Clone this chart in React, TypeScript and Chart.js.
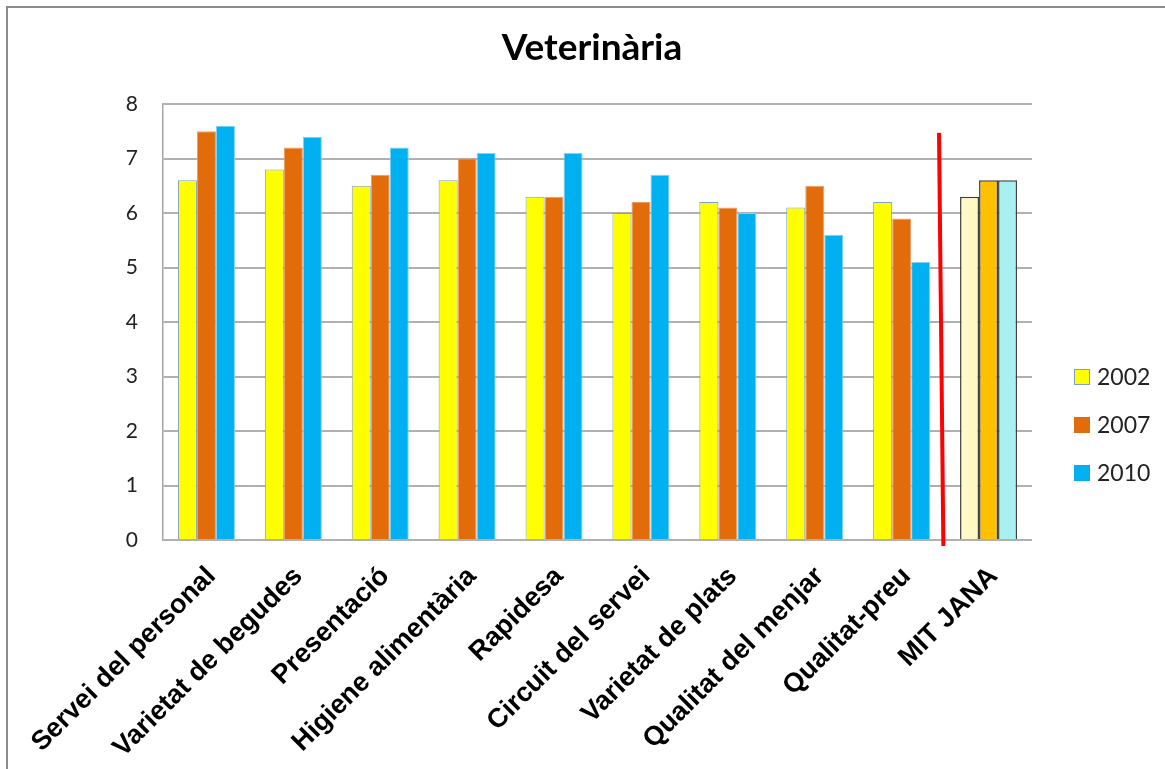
import React, { useEffect, useRef } from "react";
import { Chart, registerables } from "chart.js";

Chart.register(...registerables);

const categories = [
  "Servei del personal",
  "Varietat de begudes",
  "Presentació",
  "Higiene alimentària",
  "Rapidesa",
  "Circuit del servei",
  "Varietat de plats",
  "Qualitat del menjar",
  "Qualitat-preu",
  "MIT JANA",
];

const seriesLabels = ["2002", "2007", "2010"];
const values2002 = [6.6, 6.8, 6.5, 6.6, 6.3, 6.0, 6.2, 6.1, 6.2, 6.3];
const values2007 = [7.5, 7.2, 6.7, 7.0, 6.3, 6.2, 6.1, 6.5, 5.9, 6.6];
const values2010 = [7.6, 7.4, 7.2, 7.1, 7.1, 6.7, 6.0, 5.6, 5.1, 6.6];

const yTicks = [0, 1, 2, 3, 4, 5, 6, 7, 8];
const titleText = "Veterinària";

// separator line between the categories and the average (in data units)
const separator = { xTop: 8.43, yTop: 7.47, xBottom: 8.48, yBottom: -0.11 };

const mainColors = ["#FFFF00", "#E36C0A", "#00B0F0"];
const mainBorders = ["#7F9FC8", "#EE9A66", "#7FD4F4"];
const avgColors = ["#FFF9C6", "#FFC000", "#A9F0F2"];
const avgBorder = "#404040";

function colorsFor(i: number) {
  const n = categories.length;
  return {
    bg: categories.map((_, k) => (k === n - 1 ? avgColors[i] : mainColors[i])),
    border: categories.map((_, k) => (k === n - 1 ? avgBorder : mainBorders[i])),
    bw: categories.map((_, k) => (k === n - 1 ? 1.5 : 1)),
  };
}

export default function App() {
  const ref = useRef<HTMLCanvasElement | null>(null);

  useEffect(() => {
    if (!ref.current) return;
    const seriesValues = [values2002, values2007, values2010];

    const overlay = {
      id: "overlay",
      afterDatasetsDraw(chart: any) {
        const ctx = chart.ctx;
        const xs = chart.scales.x;
        const ys = chart.scales.y;
        ctx.save();
        ctx.strokeStyle = "#FF0000";
        ctx.lineWidth = 4;
        ctx.beginPath();
        ctx.moveTo(xs.getPixelForValue(separator.xTop), ys.getPixelForValue(separator.yTop));
        ctx.lineTo(xs.getPixelForValue(separator.xBottom), ys.getPixelForValue(separator.yBottom));
        ctx.stroke();
        ctx.restore();
      },
      afterDraw(chart: any) {
        const ctx = chart.ctx;
        const area = chart.chartArea;
        const xs = chart.scales.x;
        ctx.save();
        // title
        ctx.fillStyle = "#000000";
        ctx.font = "bold 37px Lato";
        ctx.textAlign = "center";
        ctx.textBaseline = "middle";
        ctx.fillText(titleText, 592, 48);
        // category labels, rotated 45°
        ctx.font = "bold 27px 'Liberation Sans'";
        ctx.textAlign = "right";
        ctx.textBaseline = "middle";
        categories.forEach((lab, k) => {
          const px = xs.getPixelForValue(k);
          ctx.save();
          ctx.translate(px + 5, area.bottom + 32);
          ctx.rotate(-Math.PI / 4);
          ctx.fillStyle = "#000000";
          ctx.fillText(lab, 0, 0);
          ctx.restore();
        });
        // legend
        ctx.font = "23px Lato";
        ctx.textAlign = "left";
        ctx.textBaseline = "middle";
        seriesLabels.forEach((lab, i) => {
          const cy = 377 + i * 48;
          const bx = area.right + 42;
          ctx.fillStyle = mainColors[i];
          ctx.fillRect(bx, cy - 8, 16, 16);
          if (i === 0) {
            ctx.strokeStyle = mainBorders[0];
            ctx.lineWidth = 1;
            ctx.strokeRect(bx + 0.5, cy - 7.5, 15, 15);
          }
          ctx.fillStyle = "#222222";
          ctx.fillText(lab, area.right + 65, cy + 1);
        });
        ctx.restore();
      },
    };

    const chart = new Chart(ref.current, {
      type: "bar",
      data: {
        labels: categories,
        datasets: seriesLabels.map((lab, i) => {
          const c = colorsFor(i);
          return {
            label: lab,
            data: seriesValues[i],
            backgroundColor: c.bg,
            borderColor: c.border,
            borderWidth: c.bw,
            categoryPercentage: 0.656,
            barPercentage: 1,
          };
        }),
      },
      options: {
        animation: false,
        responsive: false,
        maintainAspectRatio: false,
        layout: { padding: { top: 104, right: 133, left: 0, bottom: 0 } },
        plugins: {
          legend: { display: false },
          title: { display: false },
          tooltip: { enabled: false },
        },
        scales: {
          x: {
            grid: { display: false, drawTicks: false },
            border: { display: false },
            ticks: { display: false },
            afterFit(scale: any) {
              scale.height = 229;
            },
          },
          y: {
            min: 0,
            max: 8,
            afterBuildTicks(scale: any) {
              scale.ticks = yTicks.map((v) => ({ value: v }));
            },
            grid: { color: "#B0B0B0", lineWidth: 2, drawTicks: false },
            border: { display: true, color: "#A6A6A6", width: 1.5 },
            ticks: {
              color: "#222222",
              padding: 25,
              font: { family: "Lato", size: 21 },
            },
            afterFit(scale: any) {
              scale.width = 163;
            },
          },
        },
      },
      plugins: [overlay],
    } as any);

    return () => chart.destroy();
  }, []);

  return (
    <div style={{ position: "fixed", left: 0, top: 0, width: 1165, height: 769, background: "#fff", overflow: "hidden" }}>
      <div
        style={{
          position: "absolute",
          left: 6,
          top: 6,
          width: 1200,
          height: 800,
          borderLeft: "2px solid #8C8C8C",
          borderTop: "2px solid #8C8C8C",
        }}
      />
      <canvas ref={ref} width={1165} height={769} style={{ position: "absolute", left: 0, top: 0 }} />
    </div>
  );
}
